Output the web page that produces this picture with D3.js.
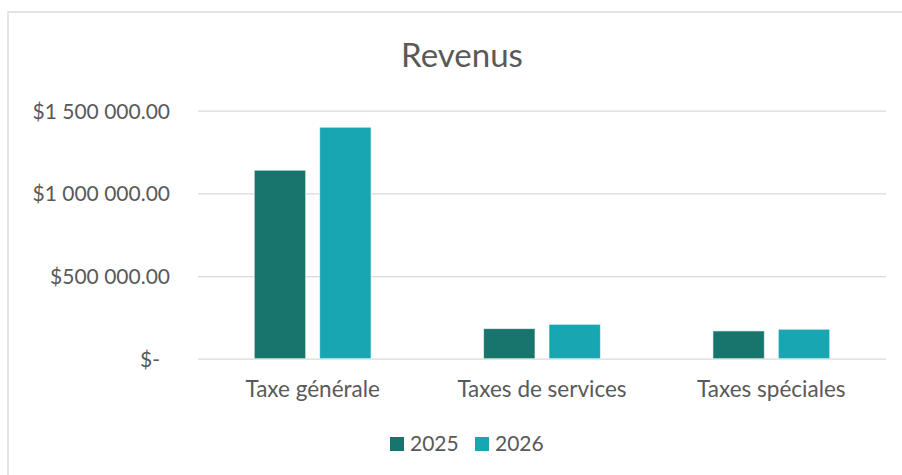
<!DOCTYPE html>
<html>
<head>
<meta charset="utf-8">
<script src="https://cdn.jsdelivr.net/npm/d3@7"></script>
<style>
  body { margin: 0; background: #fff; }
  text { font-family: Lato, "Open Sans", sans-serif; fill: #595959; }
</style>
</head>
<body>
<svg id="chart" width="902" height="475"></svg>
<script>
const categories = ['Taxe générale', 'Taxes de services', 'Taxes spéciales'];
const years = ['2025', '2026'];
const values2025 = [1140000, 182000, 168000];
const values2026 = [1400000, 208000, 178000];
const yTicks = [0, 500000, 1000000, 1500000];
const colors = ['#17756e', '#18a6b3'];

const data = categories.map((c, i) => ({ cat: c, vals: [values2025[i], values2026[i]] }));

const margin = { left: 198, right: 16, top: 110.7, bottom: 116.3 };
const W = 902, H = 475;

const svg = d3.select('#chart');

// chart frame (only top and left edges show)
svg.append('path')
   .attr('d', `M8,${H} V12 H${W}`)
   .attr('fill', 'none')
   .attr('stroke', '#d9d9d9')
   .attr('stroke-width', 1.3);

const x0 = d3.scaleBand()
             .domain(categories)
             .range([margin.left, W - margin.right])
             .padding(0);

const x1 = d3.scaleBand()
             .domain(years)
             .range([0, x0.bandwidth()])
             .paddingInner(0.214)
             .paddingOuter(0.86);

const y = d3.scaleLinear()
            .domain([0, 1500000])
            .range([H - margin.bottom, margin.top]);

const fr = d3.formatLocale({ decimal: '.', thousands: '\u00a0', grouping: [3], currency: ['$', ''] });
const money = fr.format('$,.2f');

// gridlines
svg.append('g')
   .attr('transform', `translate(${margin.left},0)`)
   .call(d3.axisLeft(y).tickValues(yTicks).tickSize(-(W - margin.right - margin.left)).tickFormat(''))
   .call(g => g.select('.domain').remove())
   .call(g => g.selectAll('line').attr('stroke', '#d9d9d9').attr('stroke-width', 1.3));

// y labels
svg.append('g')
   .attr('transform', `translate(170,0)`)
   .call(d3.axisLeft(y).tickValues(yTicks).tickSize(0).tickPadding(0)
           .tickFormat(d => d === 0 ? '$-' : money(d)))
   .call(g => g.select('.domain').remove())
   .call(g => g.selectAll('text')
                .attr('font-size', 21)
                .attr('fill', '#595959')
                .attr('font-family', 'Lato, sans-serif')
                .attr('dy', '0.35em')
                .attr('dx', d => d === 0 ? -10 : 0));

// bars
const groups = svg.append('g')
                  .selectAll('g')
                  .data(data)
                  .enter().append('g')
                    .attr('transform', d => `translate(${x0(d.cat)},0)`);

groups.selectAll('rect')
      .data(d => d.vals.map((v, j) => ({ year: years[j], v: v, j: j })))
      .enter().append('rect')
        .attr('x', d => x1(d.year))
        .attr('width', x1.bandwidth())
        .attr('y', d => y(d.v))
        .attr('height', d => y(0) - y(d.v))
        .attr('fill', d => colors[d.j])
        .attr('stroke', '#ffffff')
        .attr('stroke-opacity', 0.6)
        .attr('stroke-width', 1);

// category labels
svg.append('g')
   .attr('transform', `translate(0,${H - margin.bottom})`)
   .call(d3.axisBottom(x0).tickSize(0).tickPadding(0))
   .call(g => g.select('.domain').remove())
   .call(g => g.selectAll('text')
                .attr('font-size', 22.5)
                .attr('fill', '#595959')
                .attr('font-family', 'Lato, sans-serif')
                .attr('dy', '1.69em')
                .attr('y', 0));

// title
svg.append('text')
   .attr('x', 462)
   .attr('y', 67.3)
   .attr('text-anchor', 'middle')
   .attr('font-size', 33)
   .text('Revenus');

// legend
const legendX = [390, 475];
const legend = svg.append('g')
                  .selectAll('g')
                  .data(years)
                  .enter().append('g')
                    .attr('transform', (d, i) => `translate(${legendX[i]},437)`);

legend.append('rect')
      .attr('width', 14)
      .attr('height', 14)
      .attr('fill', (d, i) => colors[i]);

legend.append('text')
      .attr('x', 20)
      .attr('y', 14)
      .attr('font-size', 21)
      .text(d => d);
</script>
</body>
</html>
